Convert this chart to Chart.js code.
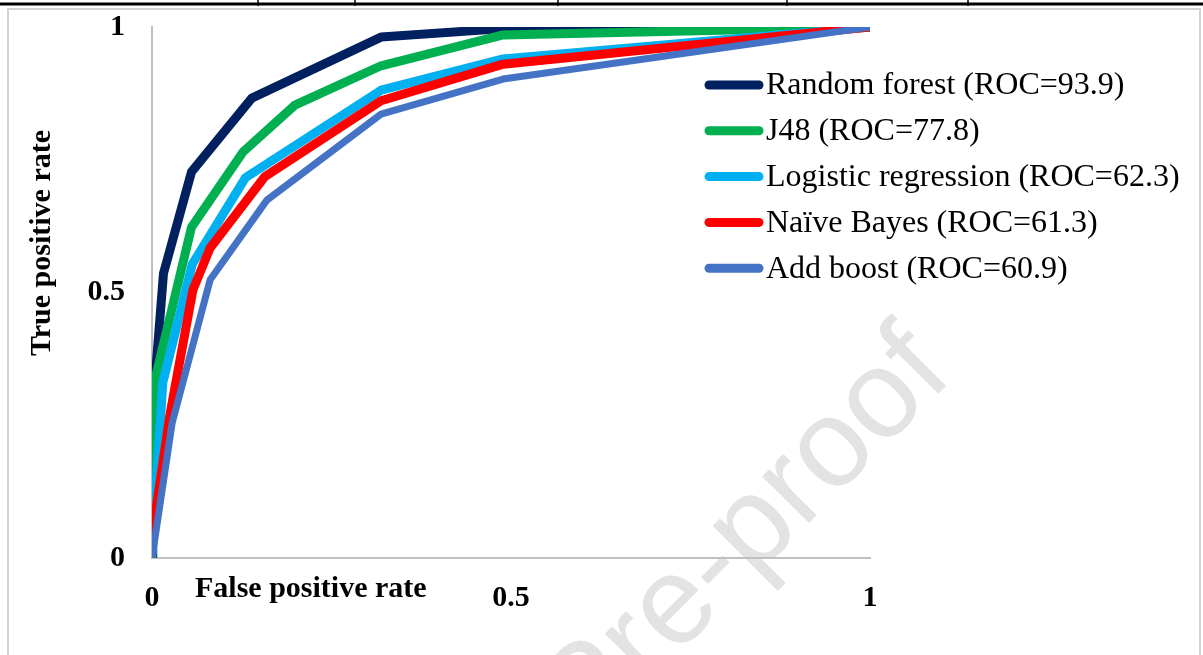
<!DOCTYPE html>
<html>
<head>
<meta charset="utf-8">
<script src="https://cdn.jsdelivr.net/npm/chart.js@4.4.1/dist/chart.umd.min.js"></script>
<style>
    html, body { margin: 0; padding: 0; background: #fff; }
    #wrap { width: 1203px; height: 655px; position: relative; }
</style>
</head>
<body>
<div id="wrap"><canvas id="rocChart"></canvas></div>
<script>
// ROC curve points (x = false positive rate, y = true positive rate)
const seriesNames = ["Random forest (ROC=93.9)", "J48 (ROC=77.8)", "Logistic regression (ROC=62.3)",
                     "Naïve Bayes (ROC=61.3)", "Add boost (ROC=60.9)"];
const rfX = [0, 0.001, 0.016, 0.055, 0.139, 0.319, 0.49, 1];
const rfY = [0, 0.28, 0.536, 0.727, 0.866, 0.981, 0.997, 1];
const j48X = [0, 0.004, 0.055, 0.127, 0.199, 0.319, 0.489, 1];
const j48Y = [0, 0.335, 0.623, 0.765, 0.853, 0.927, 0.985, 1];
const lrX = [0, 0.015, 0.056, 0.13, 0.319, 0.489, 1];
const lrY = [0.01, 0.33, 0.553, 0.716, 0.881, 0.94, 1];
const nbX = [0, 0.025, 0.057, 0.081, 0.157, 0.319, 0.489, 1];
const nbY = [0.04, 0.27, 0.505, 0.584, 0.718, 0.861, 0.93, 1];
const abX = [0, 0.028, 0.081, 0.16, 0.319, 0.489, 1];
const abY = [0, 0.254, 0.524, 0.674, 0.836, 0.902, 1];
const xTicks = [0, 0.5, 1];
const yTicks = [0, 0.5, 1];

const seriesX = [rfX, j48X, lrX, nbX, abX];
const seriesY = [rfY, j48Y, lrY, nbY, abY];
const colors = ["#002060", "#00B050", "#00B0F0", "#FF0000", "#4472C4"];
const widths = [9, 9, 9, 9, 7];

const serif = "'Liberation Serif', 'Times New Roman', serif";

const datasets = seriesNames.map((name, i) => ({
    label: name,
    data: seriesX[i].map((x, k) => ({ x: x, y: seriesY[i][k] })),
    borderColor: colors[i],
    backgroundColor: colors[i],
    borderWidth: widths[i],
    borderJoinStyle: "round",
    borderCapStyle: "round",
    pointRadius: 0,
    tension: 0,
    fill: false,
    order: seriesNames.length - i   // later series on top, like Excel
}));

// page frame + watermark under the chart
const backdrop = {
    id: "backdrop",
    beforeDraw(chart) {
        const ctx = chart.ctx;
        ctx.save();
        ctx.fillStyle = "#fff";
        ctx.fillRect(0, 0, chart.width, chart.height);

        // watermark
        ctx.translate(955, 377);
        ctx.rotate(-Math.PI / 4);
        ctx.font = "125px 'Liberation Sans', Arial, sans-serif";
        ctx.fillStyle = "#e3e3e3";
        ctx.textAlign = "right";
        ctx.textBaseline = "alphabetic";
        ctx.fillText("Journal Pre-proof", 0, 0);
        ctx.restore();

        ctx.save();
        ctx.strokeStyle = "#d4d4d4";
        ctx.lineWidth = 2;
        ctx.beginPath();
        ctx.moveTo(8, 8); ctx.lineTo(8, chart.height);
        ctx.moveTo(1200, 8); ctx.lineTo(1200, chart.height);
        ctx.moveTo(8, 9); ctx.lineTo(1200, 9);
        ctx.stroke();
        ctx.strokeStyle = "#000";
        ctx.lineWidth = 3;
        ctx.beginPath();
        ctx.moveTo(0, 4); ctx.lineTo(chart.width, 4);
        ctx.stroke();
        ctx.lineWidth = 1.5;
        ctx.beginPath();
        [258, 355, 558, 787, 968].forEach(x => { ctx.moveTo(x, 0); ctx.lineTo(x, 6); });
        ctx.stroke();
        ctx.restore();
    }
};

// axis titles and legend drawn where the original has them
const overlay = {
    id: "overlay",
    afterDraw(chart) {
        const ctx = chart.ctx;
        ctx.save();
        ctx.fillStyle = "#000";
        ctx.font = "bold 30px " + serif;
        ctx.textBaseline = "middle";
        ctx.textAlign = "left";
        ctx.fillText("False positive rate", 195, 589);

        ctx.save();
        ctx.translate(42, 243);
        ctx.rotate(-Math.PI / 2);
        ctx.textAlign = "center";
        ctx.fillText("True positive rate", 0, 0);
        ctx.restore();

        ctx.font = "32px " + serif;
        chart.data.datasets.forEach((ds, i) => {
            const y = 85 + i * 45.8;
            ctx.strokeStyle = ds.borderColor;
            ctx.lineWidth = 9;
            ctx.lineCap = "round";
            ctx.beginPath();
            ctx.moveTo(709, y);
            ctx.lineTo(759, y);
            ctx.stroke();
            ctx.fillStyle = "#000";
            ctx.fillText(ds.label, 766, y + 1);
        });
        ctx.restore();
    }
};

new Chart(document.getElementById("rocChart"), {
    type: "line",
    data: { datasets: datasets },
    options: {
        responsive: true,
        maintainAspectRatio: false,
        animation: false,
        layout: { padding: { left: 0, top: 27, right: 333, bottom: 0 } },
        plugins: {
            legend: { display: false },
            tooltip: { enabled: false }
        },
        scales: {
            x: {
                type: "linear",
                min: 0,
                max: 1,
                afterBuildTicks: s => { s.ticks = xTicks.map(v => ({ value: v })); },
                afterFit: s => { s.height = 97; s.paddingLeft = 0; s.paddingRight = 0; },
                grid: { display: false, drawTicks: false },
                border: { display: true, color: "#bfbfbf", width: 2 },
                ticks: {
                    padding: 22,
                    color: "#000",
                    maxRotation: 0,
                    font: { family: serif, size: 30, weight: "bold" },
                    callback: v => String(v)
                }
            },
            y: {
                type: "linear",
                min: 0,
                max: 1,
                afterBuildTicks: s => { s.ticks = yTicks.map(v => ({ value: v })); },
                afterFit: s => { s.width = 152; s.paddingTop = 0; s.paddingBottom = 0; },
                grid: { display: false, drawTicks: false },
                border: { display: true, color: "#bfbfbf", width: 2 },
                ticks: {
                    padding: 27,
                    color: "#000",
                    font: { family: serif, size: 30, weight: "bold" },
                    callback: v => String(v)
                }
            }
        }
    },
    plugins: [backdrop, overlay]
});
</script>
</body>
</html>
